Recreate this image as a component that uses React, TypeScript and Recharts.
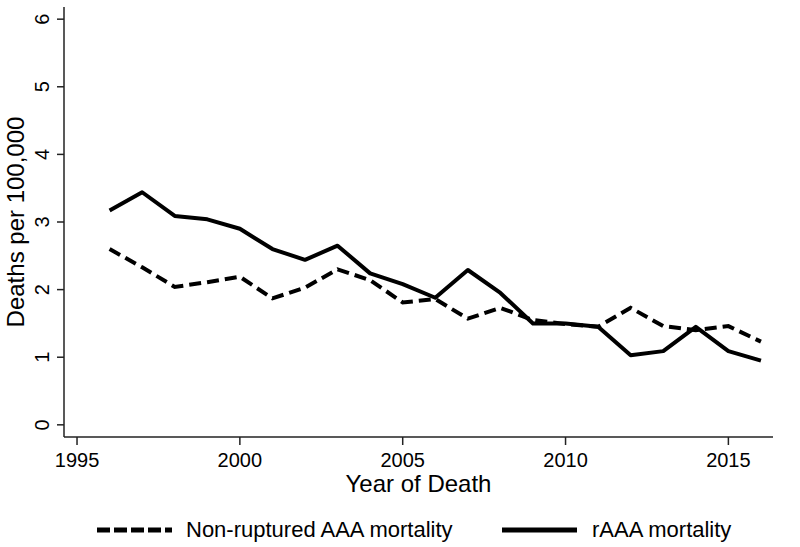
import React from 'react';
import { LineChart, Line, XAxis, YAxis, Legend } from 'recharts';

const years = [1996, 1997, 1998, 1999, 2000, 2001, 2002, 2003, 2004, 2005, 2006, 2007, 2008, 2009, 2010, 2011, 2012, 2013, 2014, 2015, 2016];
const nonRuptured = [2.6, 2.33, 2.04, 2.11, 2.19, 1.87, 2.03, 2.3, 2.14, 1.81, 1.86, 1.57, 1.73, 1.55, 1.49, 1.45, 1.73, 1.46, 1.4, 1.46, 1.23];
const rAAA = [3.17, 3.44, 3.09, 3.04, 2.9, 2.6, 2.44, 2.65, 2.24, 2.08, 1.88, 2.29, 1.95, 1.5, 1.5, 1.45, 1.03, 1.09, 1.45, 1.09, 0.95];

const xTicks = [1995, 2000, 2005, 2010, 2015];
const yTicks = [0, 1, 2, 3, 4, 5, 6];

const seriesNames = ['Non-ruptured AAA mortality', 'rAAA mortality'];

const data = years.map((year, i) => ({
  year,
  nonRuptured: nonRuptured[i],
  rAAA: rAAA[i],
}));

const FONT = '"Liberation Sans", Arial, Helvetica, sans-serif';
const INK = '#000';
const AXIS = '#222';

const YTick = (props: any) => {
  const { x, y, payload } = props;
  return (
    <text
      x={x}
      y={y}
      transform={`rotate(-90 ${x} ${y})`}
      textAnchor="middle"
      fontSize={20}
      fontFamily={FONT}
      fill={INK}
    >
      {payload.value}
    </text>
  );
};

const legendItems = [
  { name: seriesNames[0], dash: '13 4', lineLeft: 97, textLeft: 186 },
  { name: seriesNames[1], dash: undefined, lineLeft: 502, textLeft: 592 },
];

const renderLegend = () => (
  <div style={{ position: 'relative', width: 800, height: 30, fontFamily: FONT }}>
    {legendItems.map((item) => (
      <React.Fragment key={item.name}>
        <svg
          width={75}
          height={30}
          style={{ position: 'absolute', left: item.lineLeft, top: 0 }}
        >
          <line x1={0} y1={15} x2={75} y2={15} stroke={INK} strokeWidth={5} strokeDasharray={item.dash} />
        </svg>
        <span
          style={{
            position: 'absolute',
            left: item.textLeft,
            top: 0,
            lineHeight: '30px',
            fontSize: 22,
            color: INK,
            whiteSpace: 'nowrap',
          }}
        >
          {item.name}
        </span>
      </React.Fragment>
    ))}
  </div>
);

export default function App() {
  return (
    <div style={{ position: 'absolute', left: 0, top: 0, width: 800, height: 547, background: '#fff' }}>
      <style>{`body{margin:0}`}</style>
      <LineChart
        width={800}
        height={547}
        data={data}
        margin={{ top: 7, right: 27, left: 4, bottom: 2 }}
      >
        <XAxis
          dataKey="year"
          type="number"
          domain={[1994.6, 2016.37]}
          ticks={xTicks}
          allowDataOverflow
          height={78}
          tickSize={8}
          tickMargin={8}
          stroke={AXIS}
          strokeWidth={1.5}
          tick={{ fill: INK, fontSize: 20, fontFamily: FONT }}
          label={(p: any) => {
            const vb = p.viewBox;
            return (
              <text
                x={vb.x + vb.width / 2}
                y={vb.y + 55}
                textAnchor="middle"
                fontSize={24}
                fontFamily={FONT}
                fill={INK}
              >
                Year of Death
              </text>
            );
          }}
        />
        <YAxis
          type="number"
          domain={[-0.18, 6.18]}
          ticks={yTicks}
          allowDataOverflow
          width={60}
          tickSize={7}
          tickMargin={8}
          stroke={AXIS}
          strokeWidth={1.5}
          tick={<YTick />}
          label={(p: any) => {
            const vb = p.viewBox;
            const cx = 24;
            const cy = vb.y + vb.height / 2;
            return (
              <text
                x={cx}
                y={cy}
                transform={`rotate(-90 ${cx} ${cy})`}
                textAnchor="middle"
                fontSize={24}
                fontFamily={FONT}
                fill={INK}
              >
                Deaths per 100,000
              </text>
            );
          }}
        />
        <Legend
          verticalAlign="bottom"
          height={30}
          wrapperStyle={{ left: 0, width: 800 }}
          content={renderLegend}
        />
        <Line
          type="linear"
          dataKey="nonRuptured"
          name={seriesNames[0]}
          stroke={INK}
          strokeWidth={4}
          strokeDasharray="12 6"
          dot={false}
          activeDot={false}
          isAnimationActive={false}
        />
        <Line
          type="linear"
          dataKey="rAAA"
          name={seriesNames[1]}
          stroke={INK}
          strokeWidth={4}
          strokeLinejoin="round"
          dot={false}
          activeDot={false}
          isAnimationActive={false}
        />
      </LineChart>
    </div>
  );
}
